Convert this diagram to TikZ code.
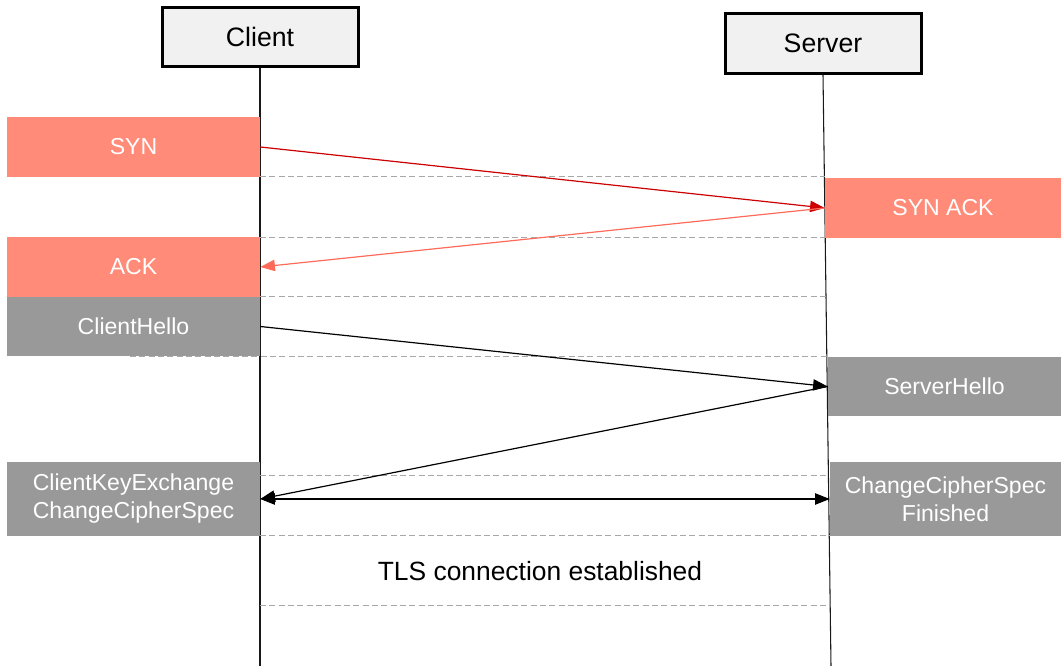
\documentclass[tikz,border=0pt]{standalone}
\usepackage{fontspec}
\setmainfont{Liberation Sans}
\usetikzlibrary{arrows.meta}
\definecolor{salmon}{HTML}{FF8B78}
\definecolor{msggray}{HTML}{999999}
\definecolor{synred}{HTML}{CC0000}
\definecolor{ackred}{HTML}{FF6B5B}
\definecolor{headfill}{HTML}{F1F1F1}
\definecolor{dashgray}{HTML}{A8A8A8}
\tikzset{
  party/.style={draw, line width=2.25pt, fill=headfill, minimum width=147pt, minimum height=44.5pt, font=\fontsize{20}{24}\selectfont},
  msg/.style={fill=#1, text=white, inner sep=0pt, font=\fontsize{17.3}{21}\selectfont, align=center},
  sep/.style={dashgray, line width=0.75pt, dash pattern=on 4.5pt off 2.5pt},
  life/.style={line width=0.8pt, black!90},
  tip/.style={-{Triangle[length=11pt,width=8.5pt]}},
  bothtips/.style={{Triangle[length=11pt,width=8.5pt]}-{Triangle[length=11pt,width=8.5pt]}},
}

\begin{document}
\begin{tikzpicture}[x=0.75pt, y=-0.75pt]
    \useasboundingbox (0,0) rectangle (1061,666);
    % parties
    \node[party] (client) at (260,37) {Client};
    \node[party] (server) at (823,43.5) {Server};
    \coordinate (clientend) at (260,666);
    \coordinate (serverend) at (831,666);
    \draw[life] (client.south) -- (clientend);
    \draw[life] (server.south) -- (serverend);
    % separators
    \draw[sep] (260,177) -- (825,177);
    \draw[sep] (260,238) -- (826,238);
    \draw[sep] (260,297) -- (827,297);
    \draw[sep] (130,356.5) -- (828,356.5);
    \draw[sep] (260,476) -- (829,476);
    \draw[sep] (260,536) -- (830,536);
    \draw[sep] (260,605) -- (830,605);
    % messages
    \node[msg=salmon, minimum width=189.75pt, minimum height=45pt] (syn) at (133.5,147) {SYN};
    \node[msg=salmon, minimum width=177pt, minimum height=45pt] (synack) at (943,208) {SYN ACK};
    \node[msg=salmon, minimum width=189.75pt, minimum height=45pt] (ack) at (133.5,267) {ACK};
    \node[msg=msggray, minimum width=189.75pt, minimum height=44.25pt] (chello) at (133.5,326.5) {ClientHello};
    \node[msg=msggray, minimum width=174.75pt, minimum height=44.25pt] (shello) at (944.5,386.5) {ServerHello};
    \node[msg=msggray, minimum width=189.75pt, minimum height=55.5pt] (ckx) at (133.5,499) {ClientKeyExchange\\ChangeCipherSpec};
    \node[msg=msggray, minimum width=173.25pt, minimum height=55.5pt] (ccs) at (945.5,499) {ChangeCipherSpec\\Finished};
    \node[font=\fontsize{19.8}{24}\selectfont] (done) at (540,571) {TLS connection established};
    % arrows
    \draw[tip, synred, line width=0.9pt] (syn.east) -- (synack.west);
    \draw[tip, ackred, line width=0.9pt] (synack.west) -- (ack.east);
    \draw[tip, line width=0.9pt] (chello.east) -- (shello.west);
    \draw[tip, line width=0.9pt] (shello.west) -- (ckx.east);
    \draw[bothtips, line width=0.9pt] (ckx.east) -- (ccs.west);
\end{tikzpicture}
\end{document}
